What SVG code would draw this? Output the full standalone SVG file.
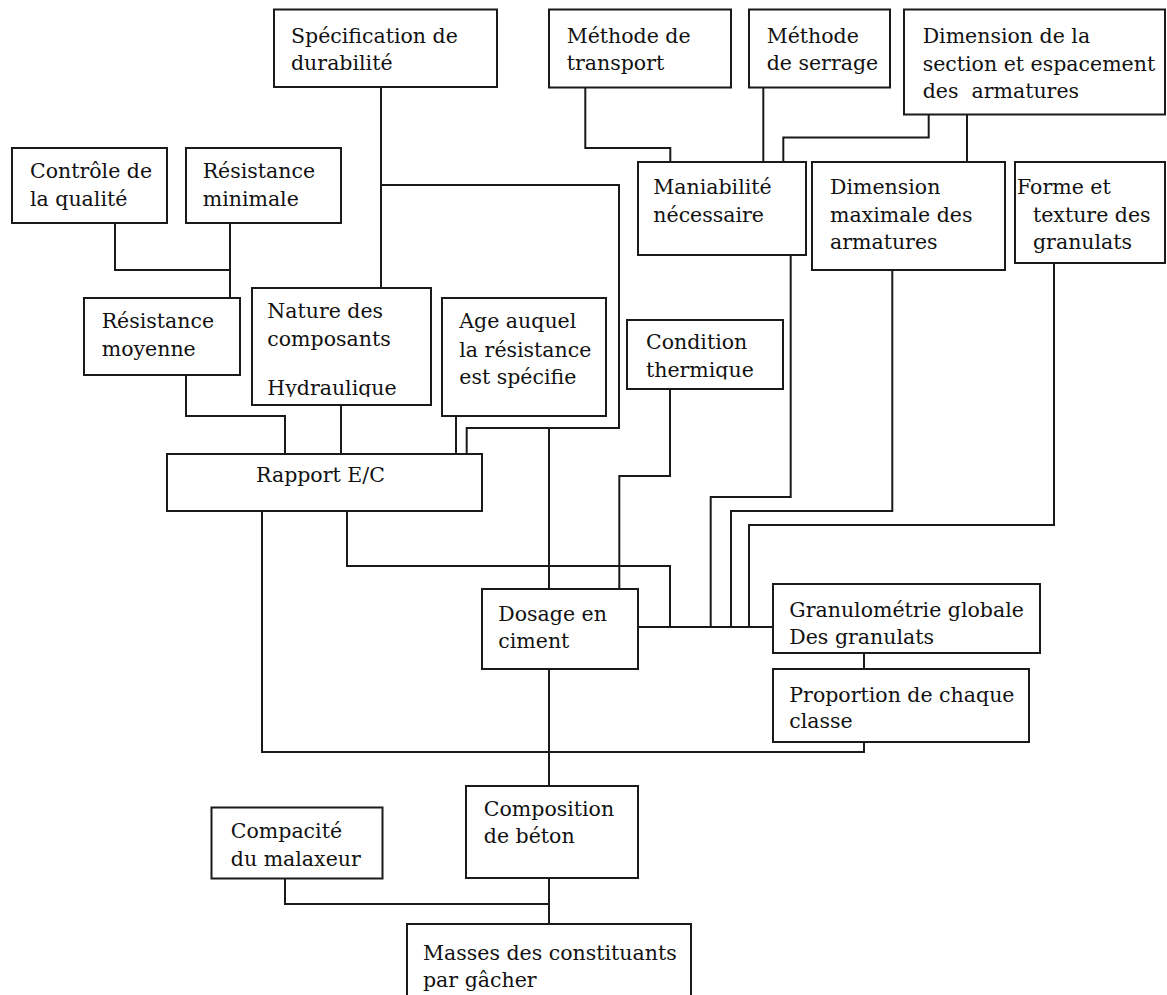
<svg xmlns="http://www.w3.org/2000/svg" width="1167" height="995" viewBox="0 0 1167 995">
<style>
.box{fill:#fff;stroke:#1a1a1a;stroke-width:2}
.c{fill:none;stroke:#1a1a1a;stroke-width:2}
text{font-family:"DejaVu Serif","Liberation Serif",serif;font-size:20.5px;fill:#111}
</style>
<defs>
<clipPath id="clipNat"><rect x="252" y="288" width="179" height="109"/></clipPath>
<clipPath id="clipCond"><rect x="627" y="320" width="156" height="59.5"/></clipPath>
</defs>
<rect width="1167" height="995" fill="#fff"/>
<g id="connectors">
<path class="c" d="M115,223V270H230"/>
<path class="c" d="M230,223V298"/>
<path class="c" d="M381,87V288"/>
<path class="c" d="M381,185H619V428H466.7V454"/>
<path class="c" d="M549,428V589"/>
<path class="c" d="M186,375V416H285V454"/>
<path class="c" d="M341,405V454"/>
<path class="c" d="M456,416V454"/>
<path class="c" d="M262,511V752H864V742"/>
<path class="c" d="M347,511V566H670V627"/>
<path class="c" d="M670,389V476H619.3V589"/>
<path class="c" d="M638,627H773"/>
<path class="c" d="M790.7,255V497H710.7V627"/>
<path class="c" d="M892.3,270V511H731V627"/>
<path class="c" d="M1054,263V525H749V627"/>
<path class="c" d="M864,653V669"/>
<path class="c" d="M549,669V786"/>
<path class="c" d="M585.3,87V148H670.3V162"/>
<path class="c" d="M763.3,87V162"/>
<path class="c" d="M928.7,114V137.5H783.3V162"/>
<path class="c" d="M967,114V162"/>
<path class="c" d="M285,878V904H549"/>
<path class="c" d="M549,878V924"/>
</g>
<g id="specification"><rect class="box" x="274" y="9.5" width="223" height="77.5"/><text x="291" y="42.7">Spécification de</text><text x="291" y="70">durabilité</text></g>
<g id="transport"><rect class="box" x="549" y="9.5" width="182" height="78"/><text x="566.7" y="42.7">Méthode de</text><text x="566.7" y="70">transport</text></g>
<g id="serrage"><rect class="box" x="749" y="9.5" width="141" height="78"/><text x="766.7" y="42.7">Méthode</text><text x="766.7" y="70">de serrage</text></g>
<g id="dimsection"><rect class="box" x="904" y="9.5" width="261" height="105"/><text x="922.7" y="42.7">Dimension de la</text><text x="922.7" y="70.7">section et espacement</text><text x="922.7" y="97.7" xml:space="preserve">des  armatures</text></g>
<g id="controle"><rect class="box" x="12" y="148" width="155" height="75"/><text x="30" y="178.3">Contrôle de</text><text x="30" y="205.7">la qualité</text></g>
<g id="resmin"><rect class="box" x="186" y="148" width="155" height="75"/><text x="202.7" y="178.3">Résistance</text><text x="202.7" y="205.7">minimale</text></g>
<g id="maniabilite"><rect class="box" x="638" y="162" width="168" height="93"/><text x="653.3" y="194">Maniabilité</text><text x="653.3" y="221.7">nécessaire</text></g>
<g id="dimmax"><rect class="box" x="812" y="162" width="193" height="108"/><text x="830" y="194">Dimension</text><text x="830" y="221.7">maximale des</text><text x="830" y="249.3">armatures</text></g>
<g id="forme"><rect class="box" x="1015" y="162" width="150" height="101"/><text x="1017" y="194">Forme et</text><text x="1033" y="221.7">texture des</text><text x="1033" y="249.3">granulats</text></g>
<g id="resmoy"><rect class="box" x="84" y="298" width="156" height="77"/><text x="101.7" y="328.3">Résistance</text><text x="101.7" y="356">moyenne</text></g>
<g id="nature"><rect class="box" x="252" y="288" width="179" height="117"/><text x="267.3" y="318.3">Nature des</text><text x="267.3" y="346">composants</text><text x="267.3" y="395" clip-path="url(#clipNat)">Hydraulique</text></g>
<g id="age"><rect class="box" x="442" y="298" width="164" height="118"/><text x="459.3" y="328.3">Age auquel</text><text x="459.3" y="356.7">la résistance</text><text x="459.3" y="384.3">est spécifie</text></g>
<g id="condition"><rect class="box" x="627" y="320" width="156" height="69"/><text x="646" y="349.3">Condition</text><text x="646" y="377.3" clip-path="url(#clipCond)">thermique</text></g>
<g id="rapport"><rect class="box" x="167" y="454" width="315" height="57"/><text x="256" y="482.3">Rapport E/C</text></g>
<g id="dosage"><rect class="box" x="482" y="589" width="156" height="80"/><text x="498.3" y="621">Dosage en</text><text x="498.3" y="648.3">ciment</text></g>
<g id="granulo"><rect class="box" x="773" y="584" width="267" height="69"/><text x="789.3" y="617.3">Granulométrie globale</text><text x="789.3" y="644">Des granulats</text></g>
<g id="proportion"><rect class="box" x="773" y="669" width="256" height="73"/><text x="789.3" y="701.7">Proportion de chaque</text><text x="789.3" y="728.3">classe</text></g>
<g id="compacite"><rect class="box" x="211.5" y="807.5" width="171" height="71"/><text x="230.8" y="838.3">Compacité</text><text x="230.8" y="866">du malaxeur</text></g>
<g id="composition"><rect class="box" x="466" y="786" width="172" height="92"/><text x="483.8" y="816">Composition</text><text x="483.8" y="843.3">de béton</text></g>
<g id="masses"><rect class="box" x="407" y="924" width="284" height="90"/><text x="423" y="960">Masses des constituants</text><text x="423" y="987">par gâcher</text></g>
</svg>
